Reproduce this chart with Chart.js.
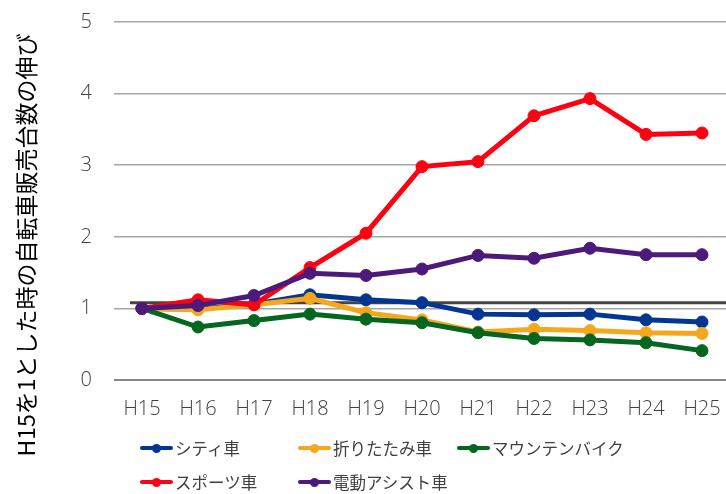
<!DOCTYPE html>
<html><head><meta charset="utf-8">
<script src="https://cdn.jsdelivr.net/npm/chart.js@4/dist/chart.umd.min.js"></script>
<style>
html,body{margin:0;padding:0;background:#fff;overflow:hidden;width:726px;height:494px;}
#wrap{position:relative;width:737px;height:494px;}
canvas{position:absolute;left:0;top:0;}
.lg{position:absolute;font-family:"Noto Sans CJK JP","Noto Sans",sans-serif;font-size:16.5px;color:#404040;white-space:nowrap;line-height:20px;}
.mk{position:absolute;width:33px;height:4px;border-radius:2px;top:8px;left:0;}
.dot{position:absolute;width:9px;height:9px;border-radius:50%;top:5.5px;left:12px;}
.tx{position:absolute;left:35px;top:0;}
</style></head>
<body><div id="wrap"><canvas id="c" width="737" height="494"></canvas><div id="legend"></div></div>
<script>
const categories = ['H15','H16','H17','H18','H19','H20','H21','H22','H23','H24','H25'];
const seriesNames = ['シティ車','折りたたみ車','マウンテンバイク','スポーツ車','電動アシスト車'];
const cityBike    = [1.00, 0.99, 1.06, 1.19, 1.12, 1.08, 0.92, 0.91, 0.92, 0.84, 0.81];
const foldingBike = [1.00, 0.98, 1.05, 1.14, 0.94, 0.84, 0.67, 0.71, 0.69, 0.66, 0.65];
const mountainBike= [1.00, 0.74, 0.83, 0.92, 0.85, 0.80, 0.66, 0.58, 0.56, 0.52, 0.41];
const sportsBike  = [1.00, 1.12, 1.05, 1.57, 2.05, 2.98, 3.05, 3.69, 3.93, 3.43, 3.45];
const assistBike  = [1.00, 1.04, 1.18, 1.49, 1.46, 1.55, 1.74, 1.70, 1.84, 1.75, 1.75];
const yTicks = [0,1,2,3,4,5];
const referenceLine = [1.08];
const yTitle = 'H15を1とした時の自転車販売台数の伸び';

const colors = ['#023691','#F5A81D','#04661F','#FF0010','#4B1A7B'];
const values = [cityBike, foldingBike, mountainBike, sportsBike, assistBike];

const datasets = values.map((v,i)=>({
  label: seriesNames[i], data: v,
  borderColor: colors[i], backgroundColor: colors[i],
  pointBackgroundColor: colors[i], pointBorderColor: colors[i],
  borderWidth: 5, pointRadius: 6, pointBorderWidth: 1, pointHoverRadius: 6,
  tension: 0, order: values.length - 1 - i
}));

const refPlugin = {
  id: 'refline',
  beforeDatasetsDraw(chart){
    const {ctx, chartArea, scales} = chart;
    const y = scales.y.getPixelForValue(referenceLine[0]);
    ctx.save();
    ctx.strokeStyle = '#444444'; ctx.lineWidth = 3;
    ctx.beginPath(); ctx.moveTo(130, y); ctx.lineTo(chartArea.right, y); ctx.stroke();
    ctx.restore();
  }
};
const titlePlugin = {
  id: 'ytitle',
  afterDraw(chart){
    const ctx = chart.ctx;
    ctx.save();
    ctx.translate(26, 245);
    ctx.rotate(-Math.PI/2);
    ctx.font = '23px "Noto Sans CJK JP", sans-serif';
    ctx.fillStyle = '#000000';
    ctx.textAlign = 'center'; ctx.textBaseline = 'middle';
    ctx.fillText(yTitle, 0, 0);
    ctx.restore();
  }
};

new Chart(document.getElementById('c'), {
  type: 'line',
  data: { labels: categories, datasets },
  plugins: [refPlugin, titlePlugin],
  options: {
    responsive: false, animation: false,
    layout: { padding: { top: 22, left: 0, right: 0, bottom: 0 } },
    plugins: { legend: { display: false }, tooltip: { enabled: false } },
    scales: {
      x: {
        offset: true,
        grid: { display: false, drawTicks: false },
        border: { display: false },
        ticks: { color: '#404040', padding: 17, font: { family: '"Open Sans", sans-serif', size: 20, weight: 300 }, maxRotation: 0 },
        afterFit(s){ s.height = 114; s.paddingLeft = 0; s.paddingRight = 0; }
      },
      y: {
        min: 0, max: 5,
        afterBuildTicks(s){ s.ticks = yTicks.map(v=>({value:v})); },
        grid: {
          drawTicks: false,
          color: c => c.tick && c.tick.value === 0 ? '#878787' : '#A6A6A6',
          lineWidth: c => c.tick && c.tick.value === 0 ? 2 : 1.5
        },
        border: { display: false },
        ticks: { color: '#404040', padding: 22, font: { family: '"Open Sans", sans-serif', size: 20, weight: 300 } },
        afterFit(s){ s.width = 114; s.paddingTop = 0; s.paddingBottom = 0; }
      }
    }
  }
});

const legendPos = [[140,438],[298,438],[457,438],[140,472],[298,472]];
const lg = document.getElementById('legend');
seriesNames.forEach((n,i)=>{
  const d = document.createElement('div');
  d.className='lg'; d.style.left=legendPos[i][0]+'px'; d.style.top=legendPos[i][1]+'px';
  d.innerHTML = '<div class="mk" style="background:'+colors[i]+'"></div><div class="dot" style="background:'+colors[i]+'"></div><span class="tx"></span>';
  d.querySelector('.tx').textContent = n;
  lg.appendChild(d);
});
</script></body></html>
